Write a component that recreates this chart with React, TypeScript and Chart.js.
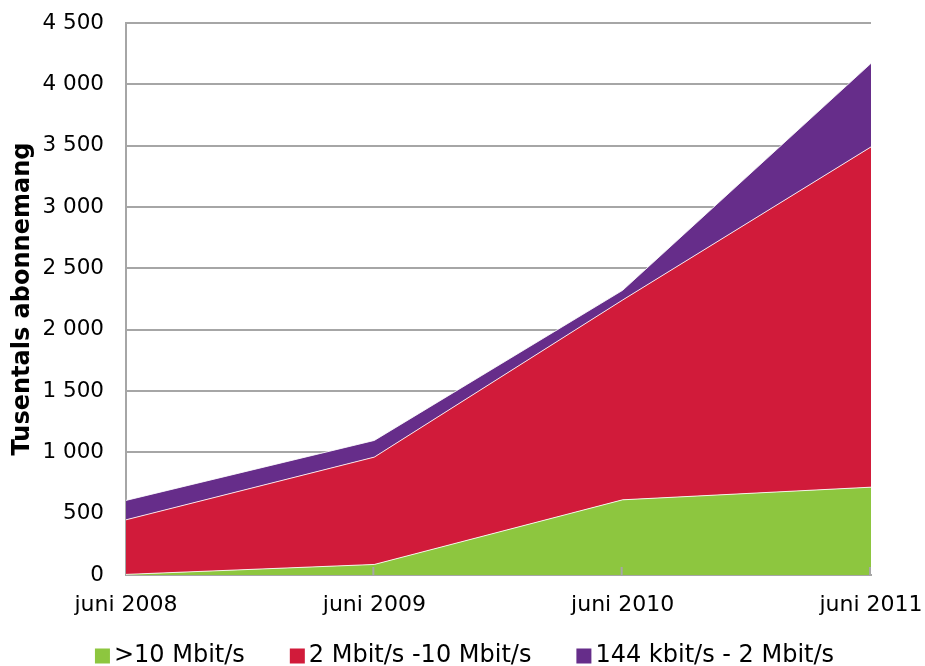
import React, { useEffect, useRef } from "react";
import { Chart, registerables } from "chart.js";

Chart.register(...registerables);

const categories = ["juni 2008", "juni 2009", "juni 2010", "juni 2011"];
const seriesNames = [">10 Mbit/s", "2 Mbit/s -10 Mbit/s", "144 kbit/s - 2 Mbit/s"];
const over10 = [5, 86, 613, 716];
const from2to10 = [445, 875, 1629, 2774];
const from144to2 = [158, 136, 79, 681];
const colors = ["#8DC63F", "#D11B3A", "#662D8A"];
const yTitle = "Tusentals abonnemang";

const FONT = "'DejaVu Sans', Verdana, sans-serif";

const legendPlugin = {
  id: "customLegend",
  afterDraw(chart: any) {
    const ctx = chart.ctx;
    const ds = chart.data.datasets;
    ctx.save();
    ctx.font = `24px ${FONT}`;
    const box = 15;
    const gapBoxText = 4;
    const gapItems = 45;
    const widths = ds.map((d: any) => ctx.measureText(d.label).width);
    let total = 0;
    widths.forEach((w: number, i: number) => {
      total += box + gapBoxText + w + (i < widths.length - 1 ? gapItems : 0);
    });
    let x = (chart.width - total) / 2 + 2;
    const y = 656;
    ctx.textBaseline = "middle";
    ctx.textAlign = "left";
    ds.forEach((d: any, i: number) => {
      ctx.fillStyle = d.backgroundColor;
      ctx.fillRect(x, y - box / 2, box, box);
      x += box + gapBoxText;
      ctx.fillStyle = "#000";
      ctx.fillText(d.label, x, y);
      x += widths[i] + gapItems;
    });
    ctx.restore();
  },
};

const innerTicksPlugin = {
  id: "innerTicks",
  afterDatasetsDraw(chart: any) {
    const xs = chart.scales.x;
    const ctx = chart.ctx;
    const bottom = chart.chartArea.bottom;
    ctx.save();
    ctx.strokeStyle = "#a6a6a6";
    ctx.lineWidth = 2;
    for (let i = 1; i < xs.ticks.length; i++) {
      const px = xs.getPixelForTick(i) - 1;
      ctx.beginPath();
      ctx.moveTo(px, bottom);
      ctx.lineTo(px, bottom - 8);
      ctx.stroke();
    }
    ctx.restore();
  },
};

export default function App() {
  const ref = useRef<HTMLCanvasElement>(null);
  useEffect(() => {
    if (!ref.current) return;
    const values = [over10, from2to10, from144to2];
    const chart = new Chart(ref.current, {
      type: "line",
      data: {
        labels: categories,
        datasets: values.map((v, i) => ({
          label: seriesNames[i],
          data: v,
          backgroundColor: colors[i],
          borderColor: "rgba(255,255,255,0.85)",
          borderWidth: 1,
          pointRadius: 0,
          tension: 0,
          fill: i === 0 ? "origin" : "-1",
        })),
      },
      options: {
        responsive: false,
        animation: false,
        layout: { padding: { left: 0, right: 54, top: 23, bottom: 41 } },
        plugins: {
          legend: { display: false },
          tooltip: { enabled: false },
        },
        scales: {
          x: {
            offset: false,
            grid: { display: false, drawTicks: false },
            border: { display: true, color: "#a6a6a6", width: 2 },
            ticks: {
              color: "#000",
              font: { family: FONT, size: 22 },
              padding: 17,
              maxRotation: 0,
              autoSkip: false,
            },
            afterFit: (s: any) => {
              s.height = 50;
              s.paddingLeft = 0;
              s.paddingRight = 0;
            },
          },
          y: {
            stacked: true,
            min: 0,
            max: 4500,
            grid: { color: "#a6a6a6", lineWidth: 2, drawTicks: false },
            border: { display: true, color: "#a6a6a6", width: 2 },
            ticks: {
              stepSize: 500,
              color: "#000",
              font: { family: FONT, size: 21.5 },
              padding: 22,
              callback: (v: any) => {
                const n = Number(v);
                return n >= 1000 ? `${Math.floor(n / 1000)} ${String(n % 1000).padStart(3, "0")}` : String(n);
              },
            },
            title: {
              display: true,
              text: yTitle,
              color: "#000",
              font: { family: FONT, size: 24, weight: "bold" },
              padding: { top: 8, bottom: 0 },
            },
            afterFit: (s: any) => {
              s.width = 126;
              s.paddingTop = 0;
              s.paddingBottom = 0;
            },
          },
        },
      },
      plugins: [legendPlugin, innerTicksPlugin],
    });
    return () => chart.destroy();
  }, []);
  return (
    <div style={{ position: "fixed", left: 0, top: 0, width: 925, height: 666, background: "#fff" }}>
      <canvas ref={ref} width={925} height={666} style={{ display: "block" }} />
    </div>
  );
}
